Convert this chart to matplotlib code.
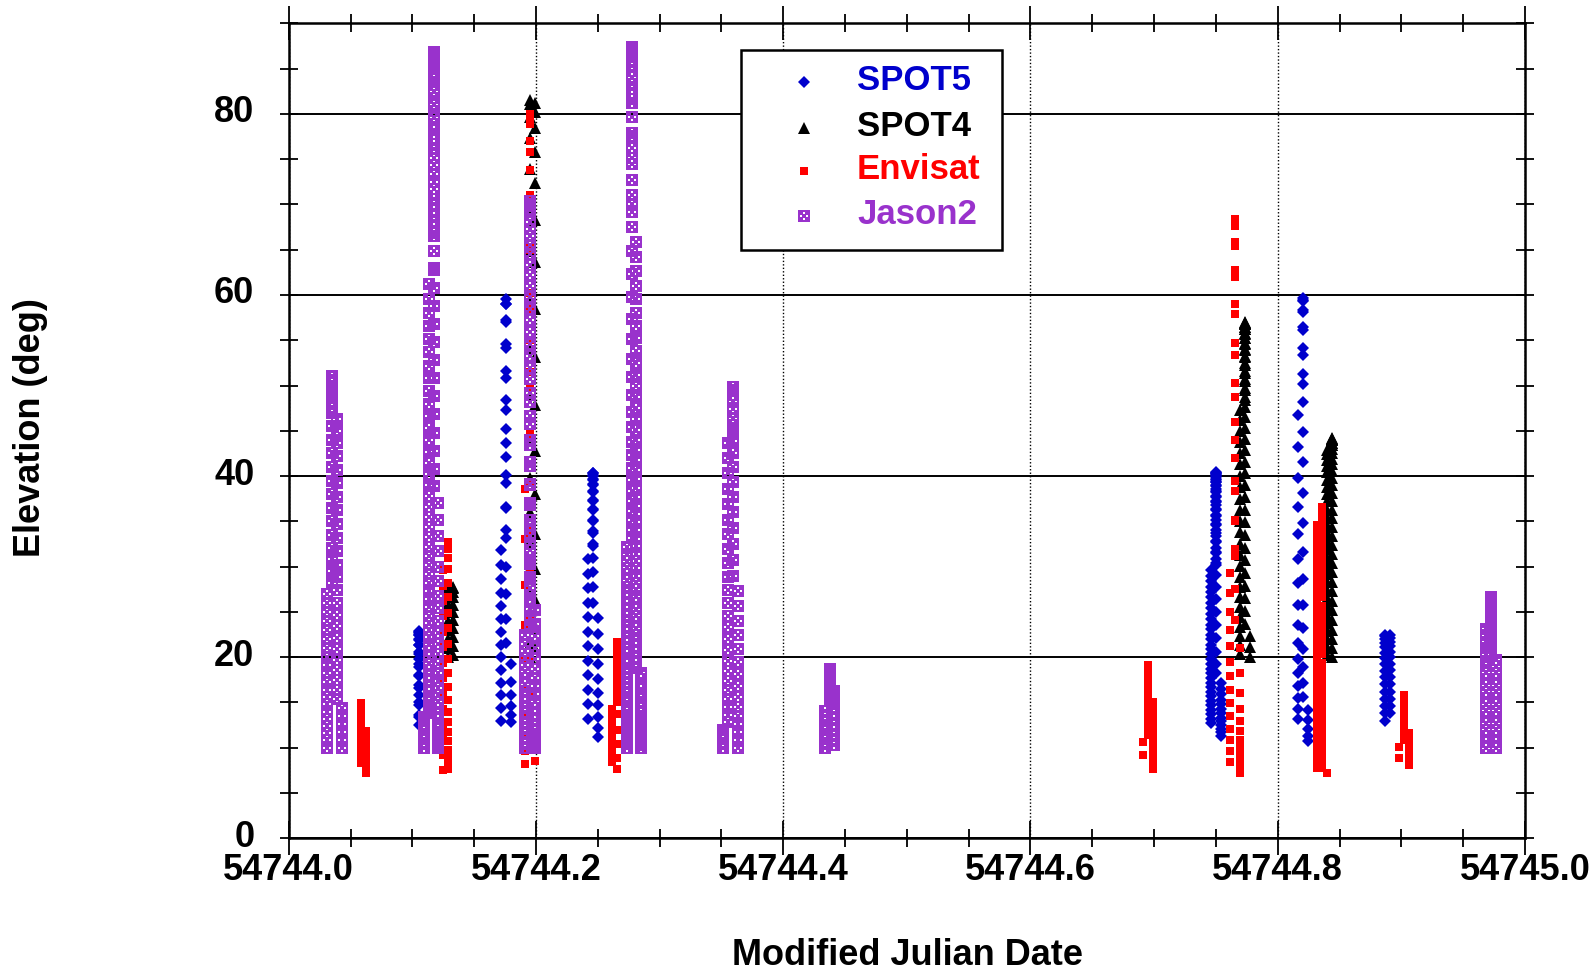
import numpy as np
import matplotlib
matplotlib.use("Agg")
import matplotlib.pyplot as plt
import matplotlib.transforms as mtransforms
from matplotlib.path import Path
from matplotlib.ticker import MultipleLocator, FormatStrFormatter

plt.rcParams['font.family'] = ['Liberation Sans', 'DejaVu Sans']
plt.rcParams['font.weight'] = 'bold'

# sampling interval of the elevation records, in days (1/6144 day ~ 14 s)
STEP = 1.0 / 6144
FAST = STEP / 2   # some passes were logged twice as often

# passes: (MJD of first sample, sampling interval, elevations in deg)
spot5 = [
    (54744.103597, STEP, [12.5, 13.6, 14.7, 15.8, 16.9, 17.9, 18.9, 19.8, 20.6, 21.3, 21.9, 22.4, 22.7, 22.9,
                          22.8, 22.5, 22, 21.3, 20.4, 19.3, 18, 16.6, 15, 13.4]),
    (54744.171631, STEP, [13, 14.4, 15.8, 17.2, 18.6, 20, 21.4, 22.8, 24.2, 25.6, 27.1, 28.6, 30.2, 31.8,
                          34, 36.5, 39.2, 42.1, 45.2, 48.4, 51.6, 54.6, 57.2, 59, 59.6, 59, 57, 54.1, 50.8,
                          47.3, 43.7, 40.1, 36.6, 33.2, 30, 27, 24.2, 21.6,
                          19.2, 17.3, 15.8, 14.6, 13.6, 12.8]),
    (54744.242269, STEP, [13.2, 14.8, 16.4, 18, 19.6, 21.2, 22.8, 24.4, 26, 27.6, 29.2, 30.8,
                          32.3, 33.7, 35, 36.2, 37.3, 38.2, 39, 39.6, 40, 40.3, 40.3, 40.1, 39.7, 39.1, 38.3,
                          37.4, 36.4, 35.2, 33.9, 32.5, 31, 29.4, 27.7, 26,
                          24.3, 22.6, 20.9, 19.2, 17.6, 16.1, 14.7, 13.4, 12.2, 11.2]),
    (54744.745483, FAST, [12.7, 13.2, 13.7, 14.2, 14.7, 15.2, 15.7, 16.2, 16.7, 17.2, 17.7, 18.2, 18.7, 19.2,
                          19.8, 20.3, 20.9, 21.4, 22, 22.5, 23.1, 23.6, 24.2, 24.8, 25.4, 26, 26.6, 27.2,
                          27.8, 28.4, 29, 29.6,
                          30.2, 30.8, 31.5, 32.1, 32.8, 33.4, 34, 34.6, 35.2, 35.7, 36.3, 36.8, 37.3, 37.7,
                          38.2, 38.6, 39, 39.3, 39.6, 39.9, 40.1, 40.3, 40.4, 40.3, 40.2, 40, 39.7, 39.3,
                          38.9, 38.4, 37.8, 37.1, 36.4, 35.6, 34.7, 33.7, 32.7, 31.6, 30.4, 29.1, 27.8, 26.4,
                          25, 23.5, 22.1, 20.6, 19.2, 18.2,
                          17.2, 16.5, 15.9, 15.3, 14.8, 14.3, 13.8, 13.3, 12.9, 12.5, 12.1, 11.7, 11.3]),
    (54744.815837, STEP, [13.2, 14.3, 15.5, 16.8, 18.2, 19.8, 21.6, 23.6, 25.8, 28.2, 30.8, 33.6, 36.6, 39.8,
                          43.2, 46.7,
                          50.2, 53.4, 56.1, 58.1, 59.3, 59.7, 59.4, 58.3, 56.5, 54.1, 51.3, 48.2, 44.9, 41.5,
                          38.1, 34.8, 31.6, 28.6, 25.8, 23.2, 20.9, 18.9, 17.1, 15.6,
                          14.2, 13.1, 12.1, 11.3, 10.7]),
    (54744.886149, STEP, [13, 13.8, 14.6, 15.4, 16.2, 17, 17.8, 18.5, 19.2, 19.9, 20.5, 21.1, 21.6, 22, 22.3,
                          22.5,
                          22.4, 22.1, 21.7, 21.2, 20.6, 20, 19.3, 18.6, 17.8, 17, 16.2, 15.4, 14.6, 13.8]),
]

spot4 = [
    (54744.129313, STEP, [20, 21, 22, 23, 24, 25, 25.9, 26.7, 27.3, 27.7,
                          27.8, 27.6, 27.2, 26.6, 25.8, 25, 24.1, 23.2, 22.2, 21.2, 20.2]),
    (54744.194092, STEP, [20, 21.5, 23.2, 25.1, 27.3, 29.8, 32.7, 36, 39.8, 44.1, 48.9, 54.1, 59.5, 64.8, 69.7,
                          73.9, 77.3, 79.7, 81.1, 81.5,
                          81.2, 80.2, 78.4, 75.8, 72.4, 68.3, 63.6, 58.5, 53.2, 47.9, 42.8, 38, 33.6, 29.7,
                          26.3, 23.4, 20.9]),
    (54744.769572, FAST, [20.3, 21.3, 22.3, 23.3, 24.4, 25.5, 26.6, 27.7, 28.9, 30.1, 31.3, 32.5, 33.8, 35,
                          36.3, 37.5, 38.8, 40, 41.3, 42.5, 43.8, 45, 46.2, 47.3,
                          48.4, 49.5, 50.5, 51.4, 52.3, 53.1, 53.9, 54.6, 55.2, 55.7, 56.2, 56.5, 56.8, 56.9,
                          57, 56.9, 56.8, 56.5, 56.2, 55.8, 55.3, 54.7, 54, 53.3, 52.5, 51.6, 50.7, 49.7,
                          48.7, 47.6, 46.5, 45.3, 44.1, 42.9, 41.6, 40.3, 39, 37.7, 36.3, 34.9, 33.5, 32.1,
                          30.7, 29.3, 27.9, 26.5, 25.1, 23.7,
                          22.3, 21.1, 20]),
    (54744.839559, FAST, [20.2, 21.1, 22, 22.9, 23.8, 24.7, 25.6, 26.5, 27.4, 28.3, 29.2, 30.1, 31, 31.9, 32.8,
                          33.7, 34.6, 35.5, 36.3, 37.2, 38, 38.8, 39.6, 40.4, 41.1, 41.8, 42.4, 42.9,
                          43.4, 43.7, 44, 44.1, 44.2, 44.1, 44, 43.7, 43.4, 43, 42.5, 41.9, 41.3, 40.6, 39.8,
                          39, 38.1, 37.2, 36.3, 35.4, 34.4, 33.4, 32.4, 31.4, 30.4, 29.4, 28.3, 27.3, 26.2,
                          25.2, 24.1, 23, 22, 21, 20]),
]

envisat = [
    (54744.057373, STEP, [8.3, 9, 9.7, 10.4, 11.1, 11.8, 12.4, 13, 13.5, 14, 14.4, 14.7, 14.9, 14.9, 14.7,
                          14.4, 14, 13.5, 13, 12.5,
                          11.9, 11.4, 10.9, 10.4, 9.9, 9.4, 8.9, 8.5, 8.1, 7.7, 7.4, 7.2]),
    (54744.124756, STEP, [7.5, 9.2, 10.9, 12.6, 14.3, 16, 17.7, 19.4, 21.1, 22.8, 24.5, 26.2, 27.9, 29.6,
                          31, 32.1, 32.7, 32.6, 32, 31, 29.7, 28.2, 26.6, 24.9, 23.2, 21.5, 19.8, 18.2, 16.7,
                          15.3, 14, 12.8, 11.7, 10.7, 9.8, 9, 8.3, 7.7]),
    (54744.191813, STEP, [8.2, 9.6, 11.4, 13.7, 16.5, 19.8, 23.6, 28, 33, 38.6,
                          44.8, 51.5, 58.4, 65, 71, 75.8, 78.9, 80, 79.2, 77, 73.8, 69.8, 65.2, 60.2, 55,
                          49.7, 44.4, 39.2, 34.1, 29.2, 24.5, 20, 15.8, 11.9,
                          8.5]),
    (54744.262126, STEP, [8.4, 8.9, 9.4, 10, 10.6, 11.3, 12, 12.7, 13.5, 14.3,
                          15.1, 16, 16.9, 17.8, 18.7, 19.5, 20.2, 20.8, 21.3, 21.6, 21.7, 21.6, 21.3, 20.8,
                          20.1, 19.2, 18.1, 16.8, 15.3, 13.7, 12, 10.4, 8.9, 7.7]),
    (54744.693115, STEP, [9.2, 10.6,
                          11.4, 12.1, 12.8, 13.5, 14.2, 14.9, 15.5, 16.1, 16.7, 17.2, 17.7, 18.1, 18.5, 18.8,
                          19, 19.1, 19, 18.8, 18.5, 18.1, 17.6, 17, 16.4, 15.7,
                          15, 14.2, 13.4, 12.6, 11.8, 11, 10.2, 9.5, 8.8, 8.2, 7.7]),
    (54744.761475, STEP, [8.4, 9.6, 10.8, 12.1, 13.5, 14.9, 16.4, 17.9, 19.5, 21.2, 23, 25, 27.1, 29.3,
                          32, 35, 38.3, 42, 46, 50.3, 54.7, 59, 62.8, 65.8, 67.7, 68.4, 67.6, 65.4, 62, 57.9,
                          53.4, 48.7, 44, 39.5, 35.2, 31.2, 27.5, 24.1,
                          21, 18.3, 16.1, 14.3, 12.9, 11.8, 10.8, 10, 9.3, 8.7, 8.1, 7.6, 7.2]),
    (54744.831095, FAST, [7.8, 8.5, 9.2, 9.9, 10.7, 11.4, 12.2, 13, 13.8, 14.6, 15.4, 16.2, 17, 17.8, 18.6,
                          19.4, 20.2, 21, 21.8, 22.6, 23.4, 24.2, 25, 25.8, 26.6, 27.4, 28.2, 29, 29.8, 30.5,
                          31.3, 32, 32.7, 33.4, 34, 34.6,
                          35.1, 35.5, 35.9, 36.2, 36.4, 36.5, 36.6, 36.6, 36.5, 36.3, 36.1, 35.8, 35.4, 35,
                          34.5, 34, 33.4, 32.8, 32.1, 31.4, 30.7, 29.9, 29.1, 28.3, 27.4, 26.6, 25.7, 24.8,
                          23.9, 23, 22.1, 21.2, 20.3, 19.4, 18.5, 17.6, 16.7, 15.8, 14.9, 14.1, 13.2, 12.4,
                          11.5, 10.7, 9.9, 9.2, 8.4, 7.8,
                          7.2]),
    (54744.900146, STEP, [8.9, 10.1,
                          10.8, 11.4, 12, 12.6, 13.1, 13.6, 14, 14.4, 14.8, 15.1, 15.4, 15.6, 15.7, 15.8, 15.7,
                          15.6, 15.4, 15.1, 14.7, 14.3, 13.8, 13.3, 12.8, 12.2,
                          11.6, 11, 10.4, 9.8, 9.2, 8.6, 8.1]),
]

jason2 = [
    (54744.030029, STEP, [10, 10.8, 11.6, 12.4, 13.2, 14, 14.8, 15.6, 16.4, 17.3, 18.2, 19.1, 20, 21, 22, 23,
                          24, 25, 26, 27,
                          28.2, 29.5, 30.8, 32.1, 33.5, 35, 36.5, 38, 39.5, 41, 42.5, 44, 45.5, 47, 48.3,
                          49.4, 50.3, 50.9, 51.1, 50.9, 50.4, 49.6, 48.6, 47.5,
                          46.3, 45, 43.6, 42.2, 40.7, 39.2, 37.7, 36.2, 34.7, 33.2, 31.7, 30.2, 28.8, 27.4,
                          26, 24.7, 23.4, 22.1, 20.9, 19.7, 18.6, 17.5, 16.4, 15.4,
                          14.4, 13.5, 12.6, 11.7, 10.8, 10]),
    (54744.110718, FAST, [10, 10.5, 11, 11.5, 12, 12.5, 13, 13.4,
                          13.8, 14.2, 14.7, 15.2, 15.7, 16.2, 16.8, 17.4, 18, 18.6, 19.3, 20, 20.7, 21.4,
                          22.2, 23, 23.8, 24.6, 25.5, 26.4, 27.3, 28.2, 29.2, 30.2, 31.2, 32.2, 33.3, 34.4,
                          35.5, 36.6, 37.8, 39, 40.2, 41.4, 42.7, 44, 45.3, 46.6, 48, 49.4, 50.8, 52.2, 53.7,
                          55.1, 56.6, 58, 59.5, 61.2,
                          63, 64.8, 66.5, 68.2, 70, 71.7, 73.4, 75.1, 76.7, 78.2, 79.7, 81.1, 82.4, 83.5,
                          84.6, 85.4, 86.1, 86.5, 86.8, 86.7, 86.4, 85.7, 84.9, 83.8, 82.5, 81, 79.5, 77.8,
                          76.1, 74.3, 72.5, 70.6, 68.7, 66.8, 64.8, 62.8, 60.8, 58.8, 56.8, 54.8, 52.8, 50.8,
                          48.8, 46.8, 44.8, 42.8, 40.8, 38.9,
                          37, 35.2, 33.4, 31.7, 30, 28.4, 26.8, 25.4, 24, 22.7, 21.5, 20.4, 19.3, 18.3, 17.4,
                          16.6, 15.8, 15.1, 14.4, 13.8, 13.2, 12.7, 12.2, 11.7, 11.3, 10.9, 10.5, 10.2, 10]),
    (54744.191772, FAST, [10, 10.5, 11.1, 11.6, 12.2, 12.7, 13.3, 13.9, 14.5, 15.1, 15.7, 16.3, 17, 17.7,
                          18.4, 19.1, 19.9, 20.7, 21.5, 22.4,
                          23.3, 24.3, 25.3, 26.4, 27.6, 28.9, 30.3, 31.8, 33.4, 35.2, 37, 39, 41.1, 43.4,
                          45.7, 48.2, 50.7, 53.3, 55.9, 58.5, 61, 63.3, 65.5, 67.3, 68.8, 69.8, 70.4, 70.1,
                          69.4, 68.1, 66.5, 64.5, 62.2, 59.8, 57.2, 54.6, 51.9, 49.2, 46.6, 44, 41.5, 39.1,
                          36.8, 34.6, 32.5, 30.5, 28.6, 26.9,
                          25.2, 23.7, 22.3, 21, 19.8, 18.7, 17.7, 16.8, 15.9, 15.1, 14.4, 13.7, 13.1, 12.5,
                          12, 11.5, 11.1, 10.7, 10.4, 10.2, 10]),
    (54744.272176, FAST, [10, 10.4, 10.9, 11.3, 11.8, 12.2, 12.7, 13.1, 13.6, 14.1, 14.6, 15.1, 15.6, 16.1,
                          16.6, 17.1, 17.7, 18.2, 18.8, 19.3, 19.9, 20.4, 21, 21.6, 22.2, 22.8, 23.4, 24,
                          24.6, 25.2, 25.9, 26.5, 27.2, 27.8, 28.5, 29.2, 29.9, 30.6, 31.3, 32.2,
                          33.2, 34.1, 35.1, 36.1, 37.2, 38.4, 39.6, 40.9, 42.3, 43.8, 45.4, 47.1, 48.9, 50.9,
                          52.9, 55.1, 57.4, 59.8, 62.3, 64.9, 67.5, 70.1, 72.7, 75.1, 77.5, 79.6, 81.6, 83.3,
                          84.7, 85.8, 86.6, 87.1, 87.4, 87.3, 87, 86.3, 85.3, 84.1, 82.7, 81.2, 79.6, 77.9,
                          76.2, 74.5, 72.7, 71, 69.2, 67.5,
                          65.8, 64.2, 62.6, 61, 59.5, 58, 56.6, 55.2, 53.8, 52.5, 51.2, 49.9, 48.7, 47.5,
                          46.3, 45.1, 44, 42.9, 41.8, 40.7, 39.7, 38.7, 37.7, 36.7, 35.8, 34.9, 34, 33.1,
                          32.3, 31.4, 30.6, 29.8, 29, 28.2, 27.5, 26.7, 26, 25.3, 24.6, 23.9, 23.2, 22.5,
                          21.9, 21.2, 20.6, 20, 19.4, 18.8,
                          18.2, 17.6, 17.1, 16.5, 16, 15.5, 15, 14.5, 14, 13.5, 13.1, 12.6, 12.2, 11.8, 11.4,
                          11, 10.6, 10.3, 10]),
    (54744.352783, STEP, [10, 10.5, 11, 11.5, 12,
                          12.8, 13.6, 14.5, 15.4, 16.4, 17.4, 18.5, 19.6, 20.8, 22, 23.3, 24.6, 26, 27.4,
                          28.9, 30.4, 32, 33.6, 35.2, 36.9, 38.6, 40.3, 42, 43.6,
                          45, 46.3, 47.4, 48.3, 49, 49.5, 49.8, 49.8, 49.5, 49, 48.3, 47.4, 46.4, 45.2, 43.9,
                          42.5, 41, 39.4, 37.7, 36, 34.3, 32.5, 30.7, 29,
                          27.3, 25.6, 24, 22.4, 20.9, 19.5, 18.1, 16.8, 15.6, 14.5, 13.5, 12.6, 11.7, 10.8,
                          10]),
    (54744.434163, STEP, [10, 10.5, 11, 11.5, 12, 12.5, 13, 13.5, 14.1,
                          15.2, 15.6, 16, 16.4, 16.8, 17.1, 17.4, 17.7, 17.9, 18.1, 18.3, 18.5, 18.6, 18.7,
                          18.7, 18.6, 18.5, 18.3, 18.1, 17.9, 17.6, 17.3, 17, 16.7,
                          16.3, 15.9, 15.4, 14.9, 14.4, 13.8, 13.2, 12.6, 12, 11.4, 10.8, 10.3]),
    (54744.967529, STEP, [10, 10.6, 11.3, 12, 12.7, 13.4, 14.1, 14.8, 15.5, 16.2, 16.9, 17.6, 18.3, 19, 19.6,
                          20.3, 21, 21.7, 22.4, 23.1,
                          23.8, 24.4, 24.9, 25.4, 25.8, 26.1, 26.4, 26.6, 26.7, 26.7, 26.6, 26.4, 26.1, 25.8,
                          25.4, 25, 24.5, 24, 23.4, 22.8, 22.2, 21.6, 21, 20.4,
                          19.7, 19, 18.3, 17.6, 16.9, 16.2, 15.5, 14.8, 14.1, 13.4, 12.7, 12, 11.3, 10.6, 10]),
]

names = ['SPOT5', 'SPOT4', 'Envisat', 'Jason2']
colors = ['#0000CC', 'black', '#FF0000', '#9932CC']


def points(passes):
    xs, ys = [], []
    for t0, dt, el in passes:
        t = t0 + dt * np.arange(len(el))
        xs.append(t.astype(np.float32))  # MJD kept in single precision -> stepped columns
        ys.append(np.asarray(el, dtype=float))
    return np.concatenate(xs).astype(float), np.concatenate(ys)


def jason_marker():
    verts = [(-1, -1), (1, -1), (1, 1), (-1, 1), (-1, -1)]
    codes = [Path.MOVETO, Path.LINETO, Path.LINETO, Path.LINETO, Path.CLOSEPOLY]
    h = 0.13
    for cx, cy in [(0, 0.45), (0.45, 0), (0, -0.45), (-0.45, 0)]:
        verts += [(cx - h, cy - h), (cx - h, cy + h), (cx + h, cy + h), (cx + h, cy - h), (cx - h, cy - h)]
        codes += [Path.MOVETO, Path.LINETO, Path.LINETO, Path.LINETO, Path.CLOSEPOLY]
    return Path(verts, codes)


markers = ['D', '^', 's', jason_marker()]
sizes = [6.2, 8.5, 5.2, 9.2]

fig = plt.figure(figsize=(15.96, 9.73), dpi=100)
ax = fig.add_axes([0.18089, 0.13844, 0.77462, 0.83762])

for passes, m, s, c in zip([spot5, spot4, envisat, jason2], markers, sizes, colors):
    x, y = points(passes)
    ax.plot(x, y, ls='none', marker=m, ms=s, mfc=c, mec='none', mew=0, zorder=3)

ax.set_xlim(54744.0, 54745.0)
ax.set_ylim(0, 90)
ax.xaxis.set_major_locator(MultipleLocator(0.2))
ax.xaxis.set_minor_locator(MultipleLocator(0.05))
ax.yaxis.set_major_locator(MultipleLocator(20))
ax.yaxis.set_minor_locator(MultipleLocator(5))
ax.xaxis.set_major_formatter(FormatStrFormatter('%.1f'))

ax.set_axisbelow(True)
ax.grid(axis='y', which='major', color='black', lw=1.4, ls='-')
ax.grid(axis='x', which='major', color='black', lw=1.0, ls=(0, (1, 1.5)))

for sp in ax.spines.values():
    sp.set_linewidth(1.8)

ax.tick_params(which='both', direction='inout', top=True, right=True, width=1.3, color='black')
ax.tick_params(axis='x', which='major', length=24, pad=-1.5, labelsize=26)
ax.tick_params(axis='x', which='minor', length=12.5)
ax.tick_params(axis='y', which='both', length=12.5)
ax.tick_params(axis='y', which='major', pad=18.5, labelsize=26)

# y tick labels sit a little above their ticks in the original
lift = mtransforms.ScaledTranslation(0, 3.6 / 72, fig.dpi_scale_trans)
for lab in ax.get_yticklabels():
    lab.set_transform(lab.get_transform() + lift)

fig.text(0.5689, 0.0085, 'Modified Julian Date', ha='center', va='baseline', fontsize=26, fontweight='bold')
fig.text(0.0194, 0.5606, 'Elevation (deg)', ha='center', va='center', rotation=90, fontsize=26,
         fontweight='bold')

# legend box
ax.add_patch(plt.Rectangle((0.3659, 0.7223), 0.2111, 0.2452, transform=ax.transAxes,
                           facecolor='white', edgecolor='black', lw=1.8, zorder=5))
rows = [0.9274, 0.8715, 0.8191, 0.7640]
for name, m, s, c, ry in zip(names, markers, sizes, colors, rows):
    ax.plot([0.4168], [ry], transform=ax.transAxes, ls='none', marker=m, ms=s, mfc=c, mec='none',
            mew=0, zorder=6, clip_on=False)
    ax.text(0.4597, ry + 0.002, name, transform=ax.transAxes, ha='left', va='center', fontsize=25,
            fontweight='bold', color=c, zorder=6)

fig.savefig('out.png', dpi=100)
